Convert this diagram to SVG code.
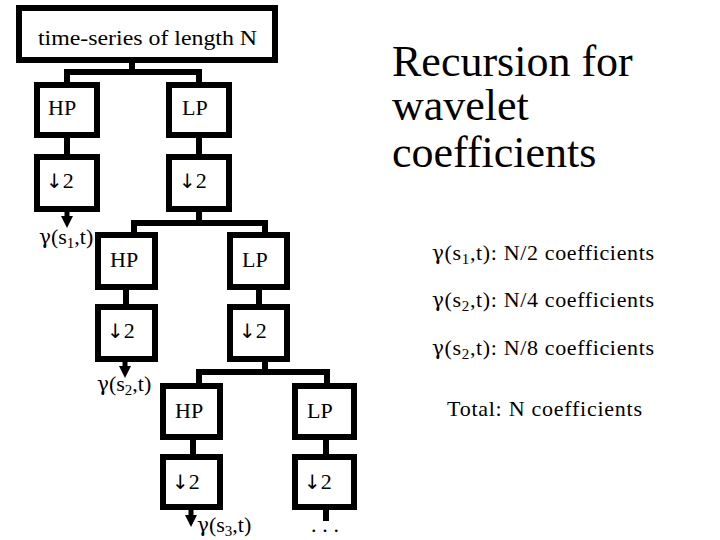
<svg xmlns="http://www.w3.org/2000/svg" width="720" height="540" viewBox="0 0 720 540">
<style>
.bx{fill:#fff;stroke:#000;stroke-width:6}
.cn{fill:none;stroke:#000;stroke-width:6;stroke-linejoin:miter}
.ar{fill:none;stroke:#000;stroke-width:5}
text{font-family:"Liberation Serif","Times New Roman","DejaVu Serif",serif;fill:#000}
.s{font-size:22px}
.big{font-size:44px}
.sub{font-size:15px}
.g{font-family:"DejaVu Serif",serif;font-size:20px}
.dn{font-family:"DejaVu Sans",sans-serif;font-size:20px}
</style>
<defs>
<marker id="ah" markerUnits="userSpaceOnUse" markerWidth="12" markerHeight="12" viewBox="0 0 12 12" refX="0" refY="6" orient="auto">
<path d="M0,0 L12,6 L0,12 z" fill="#000"/>
</marker>
</defs>
<rect width="720" height="540" fill="#fff"/>
<g id="connectors">
<path class="cn" d="M132,63 V72 M67,82 V72 H199 V82"/>
<path class="cn" d="M67,137 V154 M199,137 V154"/>
<path class="ar" d="M67,212 V216" marker-end="url(#ah)"/>
<path class="cn" d="M199,212 V223 M134,232 V223 H265 V232"/>
<path class="cn" d="M126,290 V304 M259,290 V304"/>
<path class="ar" d="M125,362 V366" marker-end="url(#ah)"/>
<path class="cn" d="M265,362 V372 M199,383 V372 H327 V383"/>
<path class="cn" d="M193,440 V454 M326,440 V454"/>
<path class="ar" d="M191,510 V515" marker-end="url(#ah)"/>
<path class="cn" d="M326,510 V521"/>
</g>
<g id="input">
<rect class="bx" x="19" y="8" width="256" height="52"/>
<text class="s" x="38" y="45" textLength="219" lengthAdjust="spacingAndGlyphs">time-series of length N</text>
</g>
<g id="hp1"><rect class="bx" x="37" y="85" width="60" height="50"/><text class="s" x="48" y="115">HP</text></g>
<g id="lp1"><rect class="bx" x="169" y="85" width="60" height="50"/><text class="s" x="182" y="115">LP</text></g>
<g id="ds1h"><rect class="bx" x="37" y="157" width="60" height="52"/><text class="s" x="46" y="188"><tspan class="dn">↓</tspan>2</text></g>
<g id="ds1l"><rect class="bx" x="169" y="157" width="60" height="52"/><text class="s" x="179" y="188"><tspan class="dn">↓</tspan>2</text></g>
<g id="g1"><text class="s" x="39" y="244"><tspan class="g">γ</tspan>(s<tspan class="sub" dy="4">1</tspan><tspan dy="-4">,t)</tspan></text></g>
<g id="hp2"><rect class="bx" x="98" y="235" width="57" height="52"/><text class="s" x="110" y="267">HP</text></g>
<g id="lp2"><rect class="bx" x="230" y="235" width="57" height="52"/><text class="s" x="242" y="267">LP</text></g>
<g id="ds2h"><rect class="bx" x="98" y="307" width="57" height="52"/><text class="s" x="107" y="338"><tspan class="dn">↓</tspan>2</text></g>
<g id="ds2l"><rect class="bx" x="230" y="307" width="57" height="52"/><text class="s" x="239" y="338"><tspan class="dn">↓</tspan>2</text></g>
<g id="g2"><text class="s" x="97" y="391"><tspan class="g">γ</tspan>(s<tspan class="sub" dy="4">2</tspan><tspan dy="-4">,t)</tspan></text></g>
<g id="hp3"><rect class="bx" x="163" y="386" width="57" height="51"/><text class="s" x="175" y="418">HP</text></g>
<g id="lp3"><rect class="bx" x="295" y="386" width="59" height="51"/><text class="s" x="307" y="418">LP</text></g>
<g id="ds3h"><rect class="bx" x="163" y="457" width="57" height="50"/><text class="s" x="172" y="489"><tspan class="dn">↓</tspan>2</text></g>
<g id="ds3l"><rect class="bx" x="295" y="457" width="59" height="50"/><text class="s" x="304" y="489"><tspan class="dn">↓</tspan>2</text></g>
<g id="g3"><text class="s" x="197" y="532"><tspan class="g">γ</tspan>(s<tspan class="sub" dy="4">3</tspan><tspan dy="-4">,t)</tspan></text></g>
<g id="more"><text class="s" x="311" y="532" textLength="28">...</text></g>
<g id="title">
<text class="big" x="392" y="76">Recursion for</text>
<text class="big" x="392" y="120">wavelet</text>
<text class="big" x="392" y="167">coefficients</text>
</g>
<g id="summary">
<text class="s" x="432" y="260" textLength="222"><tspan class="g">γ</tspan>(s<tspan class="sub" dy="4">1</tspan><tspan dy="-4">,t): N/2 coefficients</tspan></text>
<text class="s" x="432" y="307" textLength="222"><tspan class="g">γ</tspan>(s<tspan class="sub" dy="4">2</tspan><tspan dy="-4">,t): N/4 coefficients</tspan></text>
<text class="s" x="432" y="355" textLength="222"><tspan class="g">γ</tspan>(s<tspan class="sub" dy="4">2</tspan><tspan dy="-4">,t): N/8 coefficients</tspan></text>
<text class="s" x="447" y="416" textLength="195">Total: N coefficients</text>
</g>
</svg>
